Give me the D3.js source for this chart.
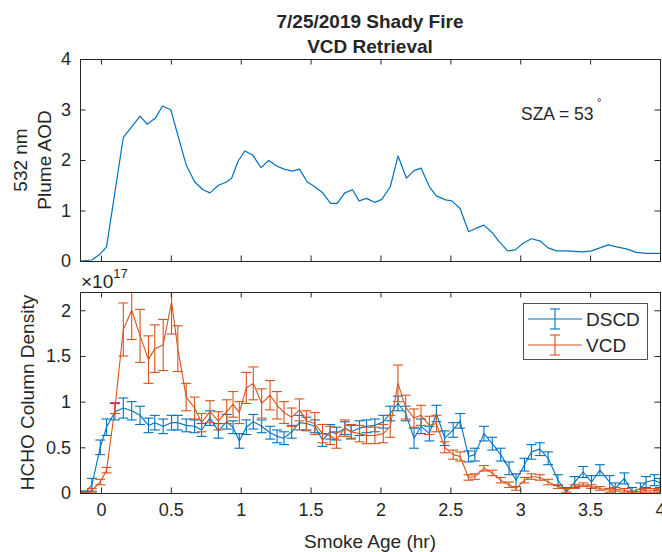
<!DOCTYPE html>
<html>
<head>
<meta charset="utf-8">
<script src="https://cdn.jsdelivr.net/npm/d3@7"></script>
<style>
  html, body { margin: 0; padding: 0; background: #ffffff; }
  svg { display: block; }
  text { font-family: "Liberation Sans", Arial, Helvetica, sans-serif; fill: #262626; }
</style>
</head>
<body>
<svg id="chart" width="662" height="552"></svg>
<script>
// ---- Plume aerosol optical depth at 532 nm vs. smoke age ----
const aodTime = [-0.148, -0.065, -0.005, 0.04, 0.16, 0.28, 0.33, 0.39, 0.44, 0.50,
  0.61, 0.67, 0.73, 0.78, 0.84, 0.895, 0.935, 0.98, 1.03, 1.085,
  1.145, 1.20, 1.257, 1.31, 1.37, 1.42, 1.475, 1.53, 1.59, 1.643,
  1.69, 1.745, 1.80, 1.847, 1.90, 1.96, 2.01, 2.07, 2.126, 2.186,
  2.24, 2.29, 2.35, 2.40, 2.466, 2.51, 2.57, 2.63, 2.686, 2.74,
  2.80, 2.85, 2.91, 2.964, 3.02, 3.08, 3.14, 3.20, 3.26, 3.33,
  3.39, 3.45, 3.51, 3.57, 3.63, 3.69, 3.76, 3.83, 3.90, 4.0];
const aodValue = [0, 0.02, 0.14, 0.28, 2.45, 2.87, 2.71, 2.83, 3.07, 2.99,
  1.90, 1.57, 1.41, 1.35, 1.50, 1.56, 1.64, 1.97, 2.18, 2.10,
  1.85, 1.99, 1.88, 1.82, 1.78, 1.82, 1.57, 1.47, 1.34, 1.14,
  1.14, 1.35, 1.41, 1.19, 1.24, 1.16, 1.22, 1.47, 2.08, 1.64,
  1.79, 1.84, 1.47, 1.29, 1.21, 1.19, 1.04, 0.58, 0.65, 0.71,
  0.56, 0.38, 0.20, 0.22, 0.35, 0.44, 0.40, 0.26, 0.20, 0.20,
  0.19, 0.18, 0.20, 0.26, 0.32, 0.28, 0.24, 0.17, 0.15, 0.15];

// ---- HCHO column densities (units of 1e17 molec/cm^2) ----
const hchoTime = [-0.15, -0.11, -0.065, -0.005, 0.04, 0.10, 0.16, 0.22, 0.28, 0.34,
  0.385, 0.445, 0.505, 0.55, 0.61, 0.67, 0.72, 0.78, 0.84, 0.90,
  0.945, 0.99, 1.04, 1.09, 1.15, 1.21, 1.26, 1.31, 1.365, 1.42,
  1.47, 1.53, 1.585, 1.64, 1.685, 1.745, 1.79, 1.85, 1.90, 1.96,
  2.02, 2.07, 2.125, 2.18, 2.24, 2.29, 2.35, 2.40, 2.46, 2.52,
  2.57, 2.63, 2.675, 2.74, 2.80, 2.86, 2.92, 2.97, 3.03, 3.08,
  3.14, 3.20, 3.27, 3.33, 3.39, 3.45, 3.51, 3.57, 3.64, 3.68,
  3.745, 3.80, 3.86, 3.90, 3.96, 4.0];
const dscdValue = [0.01, 0.01, 0.09, 0.50, 0.72, 0.89, 0.93, 0.90, 0.85, 0.74,
  0.77, 0.73, 0.77, 0.77, 0.74, 0.73, 0.69, 0.82, 0.68, 0.78,
  0.72, 0.57, 0.72, 0.78, 0.73, 0.66, 0.62, 0.60, 0.67, 0.77,
  0.76, 0.73, 0.58, 0.67, 0.65, 0.71, 0.67, 0.71, 0.73, 0.74,
  0.78, 0.87, 0.98, 0.87, 0.60, 0.73, 0.65, 0.87, 0.60, 0.69,
  0.79, 0.40, 0.42, 0.65, 0.54, 0.42, 0.27, 0.14, 0.31, 0.45,
  0.48, 0.38, 0.14, 0.01, 0.12, 0.23, 0.12, 0.25, 0.12, 0.05,
  0.16, 0.01, 0.05, 0.12, 0.14, 0.11];
const dscdError = [0.01, 0.01, 0.07, 0.08, 0.09, 0.09, 0.11, 0.10, 0.10, 0.08,
  0.08, 0.08, 0.08, 0.08, 0.07, 0.07, 0.07, 0.08, 0.08, 0.08,
  0.07, 0.08, 0.08, 0.08, 0.07, 0.07, 0.07, 0.07, 0.07, 0.08,
  0.07, 0.07, 0.07, 0.08, 0.07, 0.07, 0.07, 0.08, 0.07, 0.07,
  0.07, 0.08, 0.08, 0.08, 0.11, 0.08, 0.08, 0.09, 0.08, 0.08,
  0.08, 0.06, 0.07, 0.08, 0.07, 0.07, 0.07, 0.07, 0.07, 0.08,
  0.07, 0.07, 0.06, 0.05, 0.06, 0.06, 0.07, 0.06, 0.07, 0.06,
  0.06, 0.05, 0.06, 0.06, 0.06, 0.05];
const vcdValue = [0.00, 0.00, 0.03, 0.12, 0.25, 0.93, 1.79, 2.00, 1.72, 1.46,
  1.58, 1.62, 2.09, 1.58, 1.05, 0.93, 0.77, 0.89, 0.79, 0.89,
  0.97, 0.88, 1.15, 1.20, 0.98, 1.07, 0.96, 0.88, 0.83, 0.91,
  0.79, 0.76, 0.65, 0.63, 0.58, 0.71, 0.67, 0.65, 0.63, 0.63,
  0.65, 0.73, 1.20, 0.94, 0.82, 0.85, 0.74, 0.76, 0.50, 0.42,
  0.40, 0.17, 0.18, 0.27, 0.22, 0.14, 0.09, 0.05, 0.14, 0.18,
  0.17, 0.12, 0.07, 0.03, 0.07, 0.09, 0.07, 0.05, 0.03, 0.04,
  0.03, 0.01, 0.02, 0.03, 0.03, 0.02];
const vcdError = [0.00, 0.01, 0.02, 0.03, 0.03, 0.06, 0.29, 0.32, 0.29, 0.26,
  0.26, 0.28, 0.35, 0.25, 0.15, 0.12, 0.10, 0.12, 0.10, 0.13,
  0.14, 0.12, 0.17, 0.18, 0.16, 0.16, 0.15, 0.12, 0.10, 0.12,
  0.11, 0.12, 0.10, 0.10, 0.09, 0.09, 0.08, 0.09, 0.09, 0.09,
  0.10, 0.12, 0.20, 0.13, 0.10, 0.11, 0.10, 0.09, 0.06, 0.05,
  0.05, 0.03, 0.03, 0.03, 0.03, 0.03, 0.03, 0.02, 0.03, 0.03,
  0.03, 0.03, 0.02, 0.02, 0.02, 0.02, 0.02, 0.02, 0.02, 0.02,
  0.02, 0.01, 0.02, 0.02, 0.02, 0.02];

// ---- ticks and labels ----
const xTicks = [0, 0.5, 1, 1.5, 2, 2.5, 3, 3.5, 4];
const xTickLabels = ["0", "0.5", "1", "1.5", "2", "2.5", "3", "3.5", "4"];
const aodTicks = [0, 1, 2, 3, 4];
const hchoTicks = [0, 0.5, 1, 1.5, 2];
const hchoTickLabels = ["0", "0.5", "1", "1.5", "2"];
const seriesNames = ["DSCD", "VCD"];
const titleLines = ["7/25/2019 Shady Fire", "VCD Retrieval"];

const BLUE = "#0072BD", ORANGE = "#D95319", AXIS = "#262626";
const TICK = 5.5, CAP = 5;

const svg = d3.select("#chart");
svg.append("rect").attr("width", 662).attr("height", 552).attr("fill", "#fff");

const left = 80, right = 660;
const top1 = { y0: 59, y1: 261 };
const bot = { y0: 292, y1: 493 };

const x = d3.scaleLinear().domain([-0.15, 4]).range([left, right]);
const yAod = d3.scaleLinear().domain([0, 4]).range([top1.y1, top1.y0]);
const yH = d3.scaleLinear().domain([0, 2.2]).range([bot.y1, bot.y0]);

function styleAxis(g) {
  g.selectAll("path.domain").attr("stroke", AXIS).attr("stroke-width", 1);
  g.selectAll(".tick line").attr("stroke", AXIS).attr("stroke-width", 1);
  g.selectAll(".tick text").attr("fill", AXIS)
    .style("font-size", "18px")
    .style("font-family", '"Liberation Sans", Arial, sans-serif');
}

function boxAxes(yScale, yTicks, yFmt, panel, showXLabels) {
  const gx = svg.append("g").attr("transform", `translate(0,${panel.y1})`)
    .call(d3.axisBottom(x).tickValues(xTicks).tickSize(-TICK).tickSizeOuter(0)
      .tickPadding(10)
      .tickFormat(showXLabels ? (d, i) => xTickLabels[i] : ""));
  styleAxis(gx);
  const gxt = svg.append("g").attr("transform", `translate(0,${panel.y0})`)
    .call(d3.axisTop(x).tickValues(xTicks).tickSize(-TICK).tickSizeOuter(0).tickFormat(""));
  styleAxis(gxt);
  const gy = svg.append("g").attr("transform", `translate(${left},0)`)
    .call(d3.axisLeft(yScale).tickValues(yTicks).tickSize(-TICK).tickSizeOuter(0)
      .tickPadding(9).tickFormat(yFmt));
  styleAxis(gy);
  const gyr = svg.append("g").attr("transform", `translate(${right},0)`)
    .call(d3.axisRight(yScale).tickValues(yTicks).tickSize(-TICK).tickSizeOuter(0).tickFormat(""));
  styleAxis(gyr);
}

// ---------- top panel: AOD ----------
svg.append("defs").append("clipPath").attr("id", "clipTop")
  .append("rect").attr("x", left).attr("y", top1.y0)
  .attr("width", right - left).attr("height", top1.y1 - top1.y0);

const aodLine = d3.line().x((d, i) => x(aodTime[i])).y(d => yAod(d));
svg.append("path").datum(aodValue)
  .attr("clip-path", "url(#clipTop)")
  .attr("fill", "none").attr("stroke", BLUE).attr("stroke-width", 1.2)
  .attr("stroke-linejoin", "round").attr("d", aodLine);

boxAxes(yAod, aodTicks, d => String(d), top1, false);

svg.append("text").attr("x", 521).attr("y", 120)
  .style("font-size", "17.5px").text("SZA = 53");
svg.append("text").attr("x", 597).attr("y", 106)
  .style("font-size", "11px").text("°");

// ---------- bottom panel: HCHO ----------
svg.select("defs").append("clipPath").attr("id", "clipBot")
  .append("rect").attr("x", left).attr("y", bot.y0)
  .attr("width", right - left).attr("height", bot.y1 - bot.y0);

function drawSeries(values, errors, color) {
  const g = svg.append("g").attr("clip-path", "url(#clipBot)")
    .attr("stroke", color).attr("fill", "none").attr("stroke-width", 1.1);
  const line = d3.line().x((d, i) => x(hchoTime[i])).y(d => yH(d));
  g.append("path").datum(values).attr("d", line).attr("stroke-linejoin", "round");
  const bars = g.selectAll("g.eb").data(values).join("g").attr("class", "eb");
  bars.append("line")
    .attr("x1", (d, i) => x(hchoTime[i])).attr("x2", (d, i) => x(hchoTime[i]))
    .attr("y1", (d, i) => yH(d - errors[i])).attr("y2", (d, i) => yH(d + errors[i]));
  [-1, 1].forEach(s => {
    bars.append("line")
      .attr("x1", (d, i) => x(hchoTime[i]) - CAP).attr("x2", (d, i) => x(hchoTime[i]) + CAP)
      .attr("y1", (d, i) => yH(d + s * errors[i])).attr("y2", (d, i) => yH(d + s * errors[i]));
  });
}
drawSeries(dscdValue, dscdError, BLUE);
drawSeries(vcdValue, vcdError, ORANGE);

boxAxes(yH, hchoTicks, (d, i) => hchoTickLabels[i], bot, true);

// exponent marker
const expo = svg.append("text").attr("x", 81).attr("y", 288).style("font-size", "19px");
expo.append("tspan").text("×10");
expo.append("tspan").attr("dy", -10).style("font-size", "13px").text("17");

// legend
const lg = svg.append("g");
lg.append("rect").attr("x", 523.5).attr("y", 303.5).attr("width", 124).attr("height", 56)
  .attr("fill", "#fff").attr("stroke", AXIS).attr("stroke-width", 0.8);
[[BLUE, 319], [ORANGE, 345]].forEach(([c, cy], k) => {
  const e = lg.append("g").attr("stroke", c).attr("stroke-width", 1.1);
  e.append("line").attr("x1", 528).attr("x2", 582).attr("y1", cy).attr("y2", cy);
  e.append("line").attr("x1", 555).attr("x2", 555).attr("y1", cy - 10).attr("y2", cy + 10);
  e.append("line").attr("x1", 550).attr("x2", 560).attr("y1", cy - 10).attr("y2", cy - 10);
  e.append("line").attr("x1", 550).attr("x2", 560).attr("y1", cy + 10).attr("y2", cy + 10);
  lg.append("text").attr("x", 586).attr("y", cy + 7).style("font-size", "19px").text(seriesNames[k]);
});

// ---------- titles and axis labels ----------
titleLines.forEach((t, i) => {
  svg.append("text").attr("x", 370).attr("y", 28 + i * 25)
    .attr("text-anchor", "middle").style("font-size", "19px").style("font-weight", "bold")
    .text(t);
});

svg.append("text").attr("x", 370).attr("y", 548).attr("text-anchor", "middle")
  .style("font-size", "19px").text("Smoke Age (hr)");

[["532 nm", 27], ["Plume AOD", 51]].forEach(([t, bx]) => {
  svg.append("text").attr("transform", `translate(${bx},${(top1.y0 + top1.y1) / 2}) rotate(-90)`)
    .attr("text-anchor", "middle").style("font-size", "19px").text(t);
});
svg.append("text").attr("transform", `translate(34,${(bot.y0 + bot.y1) / 2}) rotate(-90)`)
  .attr("text-anchor", "middle").style("font-size", "19px").text("HCHO Column Density");
</script>
</body>
</html>
